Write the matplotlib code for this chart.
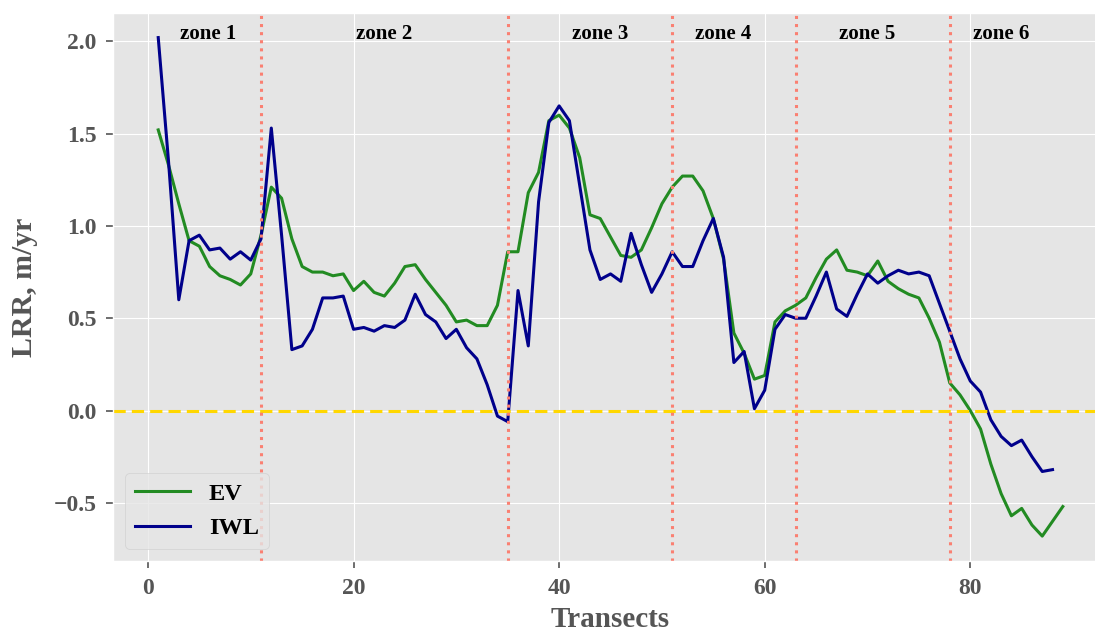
import matplotlib
matplotlib.use('Agg')
import matplotlib.pyplot as plt
import numpy as np

plt.style.use('ggplot')
plt.rcParams['font.family'] = ['Liberation Serif', 'DejaVu Serif']
plt.rcParams['font.weight'] = 'bold'

# LRR values per transect
ev = [1.52, 1.33, 1.12, 0.92, 0.89, 0.78, 0.73, 0.71, 0.68, 0.74,
      0.95, 1.21, 1.15, 0.93, 0.78, 0.75, 0.75, 0.73, 0.74, 0.65,
      0.70, 0.64, 0.62, 0.69, 0.78, 0.79, 0.71, 0.64, 0.57, 0.48,
      0.49, 0.46, 0.46, 0.57, 0.86, 0.86, 1.18, 1.29, 1.57, 1.60,
      1.53, 1.37, 1.06, 1.04, 0.94, 0.84, 0.83, 0.87, 0.99, 1.12,
      1.21, 1.27, 1.27, 1.19, 1.04, 0.82, 0.42, 0.31, 0.17, 0.19,
      0.48, 0.54, 0.57, 0.61, 0.72, 0.82, 0.87, 0.76, 0.75, 0.73,
      0.81, 0.70, 0.66, 0.63, 0.61, 0.50, 0.37, 0.15, 0.085, 0.0,
      -0.10, -0.29, -0.45, -0.57, -0.53, -0.62, -0.68, -0.60, -0.52]
iwl = [2.02, 1.35, 0.60, 0.92, 0.95, 0.87, 0.88, 0.82, 0.86, 0.815,
       0.93, 1.53, 0.95, 0.33, 0.35, 0.44, 0.61, 0.61, 0.62, 0.44,
       0.45, 0.43, 0.46, 0.45, 0.49, 0.63, 0.52, 0.48, 0.39, 0.44,
       0.34, 0.28, 0.14, -0.03, -0.06, 0.65, 0.35, 1.13, 1.56, 1.65,
       1.57, 1.22, 0.87, 0.71, 0.74, 0.70, 0.96, 0.79, 0.64, 0.74,
       0.86, 0.78, 0.78, 0.92, 1.04, 0.83, 0.26, 0.32, 0.01, 0.11,
       0.44, 0.52, 0.50, 0.50, 0.62, 0.75, 0.55, 0.51, 0.63, 0.74,
       0.69, 0.73, 0.76, 0.74, 0.75, 0.73, 0.58, 0.43, 0.28, 0.16,
       0.10, -0.05, -0.14, -0.19, -0.16, -0.25, -0.33, -0.32]
ev_x = np.arange(1, len(ev) + 1)
iwl_x = np.arange(1, len(iwl) + 1)

zone_bounds = [11, 35, 51, 63, 78]
zone_names = ['zone 1', 'zone 2', 'zone 3', 'zone 4', 'zone 5', 'zone 6']
zone_label_x = [5.9, 23, 44, 56, 70, 83]

fig = plt.figure(figsize=(10.95, 6.33), dpi=100)
ax = fig.add_axes([0.1032, 0.1137, 0.9087, 0.8663])

ax.plot(ev_x, ev, color='#228B22', lw=2.2, label='EV')
ax.plot(iwl_x, iwl, color='#00008B', lw=2.2, label='IWL')
ax.axhline(0, color='gold', ls='--', lw=2.2, dashes=(4, 2))
for b in zone_bounds:
    ax.axvline(b, color='salmon', ls=':', lw=2.2)
for name, zx in zip(zone_names, zone_label_x):
    ax.text(zx, 2.04, name, ha='center', va='center', fontsize=15,
            fontweight='bold', color='black')

ax.set_xlabel('Transects', fontsize=21, fontweight='bold', color='#555555',
              labelpad=5.5)
ax.set_ylabel('LRR, m/yr', fontsize=21.5, fontweight='bold', color='#555555',
              labelpad=11)
ax.tick_params(labelsize=17, colors='#555555', length=5, width=1.2, pad=7)
for lab in ax.get_xticklabels() + ax.get_yticklabels():
    lab.set_fontweight('bold')

leg = ax.legend(loc='lower left', fontsize=17.5, handlelength=2.25,
                borderaxespad=0.5)
for t in leg.get_texts():
    t.set_color('black')

fig.savefig('out.png', dpi=100)
